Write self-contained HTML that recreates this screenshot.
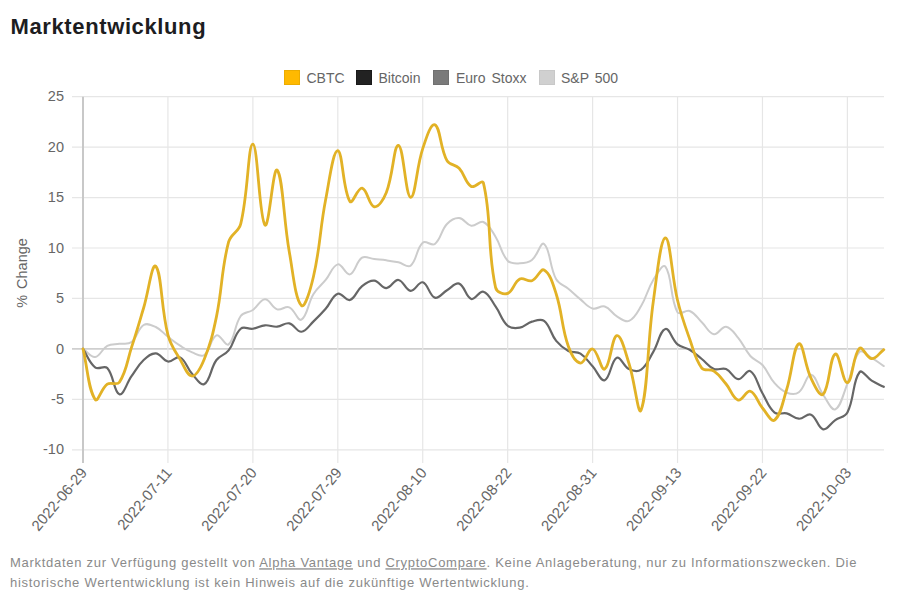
<!DOCTYPE html>
<html><head><meta charset="utf-8"><style>
html,body{margin:0;padding:0;background:#fff;width:900px;height:604px;overflow:hidden}
svg{display:block}
text{font-family:"Liberation Sans",sans-serif}
.yl{font-size:14.5px;fill:#666}
.xl{font-size:15px;fill:#666}
.lg{font-size:14px;fill:#666}
.ft{font-size:13px;fill:#8a8a8a;letter-spacing:0.72px}
</style></head><body>
<svg width="900" height="604" viewBox="0 0 900 604">
<text x="10.5" y="34" style="font-size:22px;font-weight:bold;fill:#1d1d1f;letter-spacing:0.62px">Marktentwicklung</text>
<rect x="284.5" y="70.5" width="15" height="14" fill="#ffb900" stroke="#ecac00" stroke-width="1"/>
<text x="306.5" y="82.5" class="lg">CBTC</text>
<rect x="356.5" y="70.5" width="15" height="14" fill="#222" stroke="#1a1a1a" stroke-width="1"/>
<text x="378.5" y="82.5" class="lg">Bitcoin</text>
<rect x="433.5" y="70.5" width="15" height="14" fill="#7a7a7a" stroke="#707070" stroke-width="1"/>
<text x="456" y="82.5" class="lg" style="word-spacing:2px">Euro Stoxx</text>
<rect x="539.5" y="70.5" width="15" height="14" fill="#d0d0d0" stroke="#c8c8c8" stroke-width="1"/>
<text x="561" y="82.5" class="lg" style="word-spacing:2px">S&amp;P 500</text>
<line x1="72" y1="96.67" x2="884" y2="96.67" stroke="#e6e6e6" stroke-width="1.2"/>
<text x="64" y="101.27" text-anchor="end" class="yl">25</text>
<line x1="72" y1="147.12" x2="884" y2="147.12" stroke="#e6e6e6" stroke-width="1.2"/>
<text x="64" y="151.72" text-anchor="end" class="yl">20</text>
<line x1="72" y1="197.56" x2="884" y2="197.56" stroke="#e6e6e6" stroke-width="1.2"/>
<text x="64" y="202.16" text-anchor="end" class="yl">15</text>
<line x1="72" y1="248.01" x2="884" y2="248.01" stroke="#e6e6e6" stroke-width="1.2"/>
<text x="64" y="252.61" text-anchor="end" class="yl">10</text>
<line x1="72" y1="298.45" x2="884" y2="298.45" stroke="#e6e6e6" stroke-width="1.2"/>
<text x="64" y="303.06" text-anchor="end" class="yl">5</text>
<line x1="72" y1="348.90" x2="884" y2="348.90" stroke="#cfcfcf" stroke-width="1.6"/>
<text x="64" y="353.50" text-anchor="end" class="yl">0</text>
<line x1="72" y1="399.34" x2="884" y2="399.34" stroke="#e6e6e6" stroke-width="1.2"/>
<text x="64" y="403.94" text-anchor="end" class="yl">-5</text>
<line x1="72" y1="449.79" x2="884" y2="449.79" stroke="#e6e6e6" stroke-width="1.2"/>
<text x="64" y="454.39" text-anchor="end" class="yl">-10</text>
<text transform="translate(83.60,469.6) rotate(-50)" text-anchor="end" dominant-baseline="central" class="xl">2022-06-29</text>
<line x1="167.93" y1="96.7" x2="167.93" y2="463" stroke="#e6e6e6" stroke-width="1.2"/>
<text transform="translate(168.53,469.6) rotate(-50)" text-anchor="end" dominant-baseline="central" class="xl">2022-07-11</text>
<line x1="252.87" y1="96.7" x2="252.87" y2="463" stroke="#e6e6e6" stroke-width="1.2"/>
<text transform="translate(253.47,469.6) rotate(-50)" text-anchor="end" dominant-baseline="central" class="xl">2022-07-20</text>
<line x1="337.80" y1="96.7" x2="337.80" y2="463" stroke="#e6e6e6" stroke-width="1.2"/>
<text transform="translate(338.40,469.6) rotate(-50)" text-anchor="end" dominant-baseline="central" class="xl">2022-07-29</text>
<line x1="422.73" y1="96.7" x2="422.73" y2="463" stroke="#e6e6e6" stroke-width="1.2"/>
<text transform="translate(423.33,469.6) rotate(-50)" text-anchor="end" dominant-baseline="central" class="xl">2022-08-10</text>
<line x1="507.67" y1="96.7" x2="507.67" y2="463" stroke="#e6e6e6" stroke-width="1.2"/>
<text transform="translate(508.27,469.6) rotate(-50)" text-anchor="end" dominant-baseline="central" class="xl">2022-08-22</text>
<line x1="592.60" y1="96.7" x2="592.60" y2="463" stroke="#e6e6e6" stroke-width="1.2"/>
<text transform="translate(593.20,469.6) rotate(-50)" text-anchor="end" dominant-baseline="central" class="xl">2022-08-31</text>
<line x1="677.53" y1="96.7" x2="677.53" y2="463" stroke="#e6e6e6" stroke-width="1.2"/>
<text transform="translate(678.13,469.6) rotate(-50)" text-anchor="end" dominant-baseline="central" class="xl">2022-09-13</text>
<line x1="762.47" y1="96.7" x2="762.47" y2="463" stroke="#e6e6e6" stroke-width="1.2"/>
<text transform="translate(763.07,469.6) rotate(-50)" text-anchor="end" dominant-baseline="central" class="xl">2022-09-22</text>
<line x1="847.40" y1="96.7" x2="847.40" y2="463" stroke="#e6e6e6" stroke-width="1.2"/>
<text transform="translate(848.00,469.6) rotate(-50)" text-anchor="end" dominant-baseline="central" class="xl">2022-10-03</text>
<line x1="83" y1="96.7" x2="83" y2="463" stroke="#c8c8c8" stroke-width="2"/>
<text transform="translate(27,273) rotate(-90)" text-anchor="middle" style="font-size:14.5px;fill:#666;word-spacing:2px">% Change</text>
<path d="M83.00 348.90C87.85 352.13 90.57 357.54 95.13 356.97C100.28 356.33 101.71 348.87 107.27 345.87C111.42 343.63 114.54 344.62 119.40 343.86C124.25 343.09 127.95 344.83 131.53 342.04C137.65 337.28 137.55 328.78 143.67 324.99C147.26 322.76 151.52 324.92 155.80 327.01C161.23 329.65 162.99 332.99 167.93 336.79C172.70 340.46 175.02 342.42 180.07 345.67C184.73 348.68 187.07 350.47 192.20 352.43C196.78 354.18 200.94 357.34 204.33 354.95C210.64 350.52 210.60 337.94 216.47 335.38C220.31 333.70 225.41 346.91 228.60 344.36C235.12 339.16 233.99 325.57 240.73 316.01C243.70 311.81 248.43 313.00 252.87 309.96C258.14 306.34 260.09 299.49 265.00 299.36C269.79 299.24 271.69 307.56 277.13 309.35C281.39 310.75 285.23 305.62 289.27 307.33C294.94 309.74 297.72 321.66 301.40 319.64C307.43 316.33 307.66 303.60 313.53 294.02C317.37 287.74 320.97 285.73 325.67 279.99C330.68 273.87 332.39 265.61 337.80 264.35C342.10 263.35 345.73 275.49 349.93 274.34C355.44 272.83 355.97 261.52 362.07 257.70C365.68 255.43 369.34 258.58 374.20 259.11C379.05 259.63 381.50 259.68 386.33 260.32C391.21 260.97 393.67 261.28 398.47 262.34C403.37 263.42 407.44 268.23 410.60 265.67C417.14 260.36 416.13 248.57 422.73 242.66C425.83 239.89 431.54 246.54 434.87 243.97C441.24 239.07 440.85 230.57 447.00 224.00C450.56 220.20 454.43 217.71 459.13 218.05C464.13 218.40 466.12 224.88 471.27 225.71C475.82 226.45 479.52 220.22 483.40 221.98C489.23 224.62 491.51 230.28 495.53 236.71C501.21 245.78 501.02 253.43 507.67 260.72C510.73 264.09 514.98 263.49 519.80 263.35C524.69 263.20 528.20 263.00 531.93 260.02C537.90 255.25 540.67 241.28 544.07 243.97C550.38 248.98 549.32 266.61 556.20 279.29C559.03 284.49 563.61 284.76 568.33 288.67C573.32 292.79 575.47 295.27 580.47 299.36C585.17 303.22 587.23 306.96 592.60 308.54C596.94 309.82 600.45 305.16 604.73 306.53C610.16 308.26 611.57 313.16 616.87 316.31C621.28 318.94 625.09 322.61 629.00 320.95C634.79 318.50 637.24 312.59 641.13 306.02C646.95 296.21 647.30 289.66 653.27 279.99C657.01 273.92 662.72 263.10 665.40 266.67C672.43 276.06 669.82 298.30 677.53 312.38C679.53 316.01 685.55 309.29 689.67 310.97C695.26 313.24 697.02 317.67 701.80 322.27C706.72 326.99 708.65 333.30 713.93 334.27C718.36 335.08 721.55 326.05 726.07 326.70C731.26 327.46 734.03 332.78 738.20 337.80C743.74 344.48 744.60 349.53 750.33 355.96C754.31 360.43 758.49 360.58 762.47 365.04C768.20 371.48 768.91 376.72 774.60 383.20C778.61 387.78 781.31 390.66 786.73 392.69C791.01 394.29 795.36 394.90 798.87 392.28C805.06 387.67 806.38 374.15 811.00 374.63C816.08 375.16 817.75 387.11 823.13 394.80C827.46 400.99 831.37 411.10 835.27 409.33C841.08 406.70 843.00 394.21 847.40 383.81C852.71 371.25 852.59 359.32 859.53 351.93C862.29 348.99 866.99 355.26 871.67 357.98C876.69 360.91 878.95 362.82 883.80 366.05" fill="none" stroke="#cccccc" stroke-width="2" stroke-linejoin="round" stroke-linecap="round"/>
<path d="M83.00 348.90C87.85 356.29 88.87 362.42 95.13 367.36C98.58 370.08 104.39 364.88 107.27 368.07C114.10 375.65 113.87 392.46 119.40 394.30C123.58 395.69 126.49 383.27 131.53 376.14C136.20 369.55 137.91 365.41 143.67 360.00C147.61 356.29 151.08 353.04 155.80 353.34C160.79 353.65 162.76 360.65 167.93 361.51C172.47 362.27 176.34 355.46 180.07 357.37C186.05 360.46 186.69 367.98 192.20 374.02C196.40 378.63 200.75 386.08 204.33 384.01C210.46 380.47 210.30 368.53 216.47 360.00C220.01 355.09 224.88 355.21 228.60 350.41C234.58 342.70 234.21 334.55 240.73 328.72C243.92 325.88 248.11 329.39 252.87 328.72C257.81 328.02 260.07 325.70 265.00 325.29C269.78 324.89 272.35 327.08 277.13 326.70C282.06 326.32 284.80 322.45 289.27 323.37C294.50 324.46 296.74 332.14 301.40 331.75C306.45 331.33 308.90 325.75 313.53 321.36C318.61 316.55 321.05 314.00 325.67 308.75C330.76 302.94 332.11 295.77 337.80 293.71C341.82 292.26 345.81 301.27 349.93 299.97C355.51 298.20 356.42 290.53 362.07 286.05C366.12 282.82 369.51 280.31 374.20 280.70C379.22 281.12 381.54 288.20 386.33 288.06C391.25 287.92 393.89 279.46 398.47 279.99C403.59 280.59 405.52 290.40 410.60 290.89C415.23 291.33 418.54 281.15 422.73 282.31C428.25 283.85 429.24 295.80 434.87 297.65C438.95 298.99 442.09 293.12 447.00 290.28C451.79 287.51 455.11 282.19 459.13 283.62C464.82 285.66 465.63 297.09 471.27 298.96C475.34 300.31 479.26 290.44 483.40 291.70C488.97 293.38 491.13 300.15 495.53 306.32C500.83 313.75 501.36 320.13 507.67 325.70C511.06 328.69 515.18 328.48 519.80 327.71C524.89 326.87 526.81 323.09 531.93 321.66C536.52 320.38 540.75 318.32 544.07 320.95C550.45 326.02 550.40 333.76 556.20 340.93C560.10 345.75 562.91 348.08 568.33 350.92C572.62 353.16 576.44 351.08 580.47 353.64C586.15 357.26 587.86 361.17 592.60 366.35C597.56 371.78 600.66 381.61 604.73 380.18C610.37 378.18 610.99 360.47 616.87 357.78C620.69 356.03 623.40 366.35 629.00 369.08C633.10 371.07 637.62 372.06 641.13 369.58C647.33 365.20 648.87 359.27 653.27 351.93C658.58 343.05 659.87 330.75 665.40 329.02C669.57 327.72 671.75 339.43 677.53 344.36C681.46 347.70 685.16 346.99 689.67 349.71C694.86 352.84 697.02 355.19 701.80 358.99C706.72 362.90 708.46 366.70 713.93 368.98C718.16 370.74 721.85 367.31 726.07 369.08C731.55 371.38 733.15 378.75 738.20 379.17C742.86 379.55 746.79 369.03 750.33 371.10C756.49 374.68 757.37 384.56 762.47 393.29C767.07 401.18 768.26 407.42 774.60 412.66C777.97 415.45 782.09 412.21 786.73 413.37C791.80 414.63 793.93 418.45 798.87 418.72C803.63 418.97 807.10 412.98 811.00 414.68C816.80 417.21 817.75 428.12 823.13 429.31C827.46 430.26 830.25 423.51 835.27 420.03C839.96 416.77 844.94 417.32 847.40 412.46C854.64 398.19 852.35 381.61 859.53 372.21C862.06 368.90 866.61 377.63 871.67 380.68C876.32 383.48 878.95 384.37 883.80 386.83" fill="none" stroke="#666666" stroke-width="2.2" stroke-linejoin="round" stroke-linecap="round"/>
<path d="M83.00 348.90C87.85 369.08 88.07 389.06 95.13 399.34C97.77 403.19 101.33 388.41 107.27 384.21C111.03 381.55 116.97 385.88 119.40 382.19C126.68 371.15 126.97 361.40 131.53 347.39C136.67 331.62 138.91 323.63 143.67 307.74C148.62 291.18 152.08 262.13 155.80 266.27C161.79 272.94 160.97 308.06 167.93 334.78C170.68 345.31 174.52 349.96 180.07 359.39C184.23 366.47 187.38 376.12 192.20 376.04C197.09 375.96 201.21 366.64 204.33 358.99C210.92 342.87 212.89 333.85 216.47 316.62C222.60 287.04 221.07 270.77 228.60 241.96C230.77 233.64 238.66 232.14 240.73 223.80C248.37 193.00 248.05 143.85 252.87 144.09C257.76 144.34 259.25 218.86 265.00 225.01C268.96 229.24 273.20 165.70 277.13 170.02C282.90 176.35 283.45 219.17 289.27 251.64C293.16 273.37 295.23 299.26 301.40 305.52C304.94 309.11 310.72 288.54 313.53 276.26C320.43 246.16 319.78 230.04 325.67 199.58C329.48 179.84 333.03 150.40 337.80 150.75C342.74 151.12 342.72 190.30 349.93 201.40C352.43 205.24 357.72 187.12 362.07 188.08C367.43 189.26 368.92 205.78 374.20 206.75C378.63 207.56 383.64 199.33 386.33 192.52C393.35 174.76 393.83 144.40 398.47 145.30C403.54 146.30 405.59 196.58 410.60 197.26C415.30 197.91 416.41 167.54 422.73 148.63C426.12 138.52 430.85 122.73 434.87 124.72C440.55 127.54 439.96 147.99 447.00 160.64C449.67 165.43 455.28 164.21 459.13 168.31C464.99 174.54 465.12 182.76 471.27 186.47C474.82 188.61 482.36 178.61 483.40 182.94C492.07 218.96 486.94 248.22 495.53 287.36C496.64 292.41 503.61 294.81 507.67 293.41C513.31 291.46 513.92 282.06 519.80 278.98C523.62 276.98 527.75 282.25 531.93 280.70C537.46 278.65 540.42 268.00 544.07 270.00C550.13 273.33 552.96 283.83 556.20 294.02C562.66 314.34 561.33 326.35 568.33 346.28C571.03 353.96 575.35 362.45 580.47 363.02C585.06 363.54 588.31 347.93 592.60 349.00C598.02 350.35 600.87 371.20 604.73 369.08C610.58 365.87 611.63 336.88 616.87 335.68C621.34 334.66 625.24 352.01 629.00 363.53C634.95 381.75 638.16 417.61 641.13 410.04C647.87 392.87 647.18 344.84 653.27 301.68C656.89 276.03 660.49 238.31 665.40 238.02C670.20 237.74 671.62 275.64 677.53 300.27C681.32 316.04 684.20 323.74 689.67 339.01C693.91 350.86 694.85 358.88 701.80 368.07C704.56 371.72 709.92 368.46 713.93 371.10C719.62 374.83 721.52 378.59 726.07 384.01C731.23 390.17 732.64 398.39 738.20 400.05C742.34 401.29 746.26 389.93 750.33 391.27C755.96 393.12 757.15 401.72 762.47 408.02C766.86 413.22 771.30 422.58 774.60 420.03C781.00 415.08 782.72 401.84 786.73 389.26C792.43 371.37 793.40 346.36 798.87 343.86C803.10 341.92 804.76 365.18 811.00 378.16C814.46 385.36 819.99 397.44 823.13 394.30C829.70 387.75 829.68 356.64 835.27 353.94C839.39 351.96 842.93 383.64 847.40 382.60C852.63 381.38 852.79 354.94 859.53 348.29C862.49 345.38 866.69 358.42 871.67 358.69C876.39 358.94 878.95 353.24 883.80 349.61" fill="none" stroke="#e2b226" stroke-width="2.8" stroke-linejoin="round" stroke-linecap="round"/>
<text x="10" y="567.3" class="ft">Marktdaten zur Verfügung gestellt von <tspan text-decoration="underline">Alpha Vantage</tspan> und <tspan text-decoration="underline">CryptoCompare</tspan>. Keine Anlageberatung, nur zu Informationszwecken. Die</text>
<text x="10" y="587" class="ft">historische Wertentwicklung ist kein Hinweis auf die zukünftige Wertentwicklung.</text>
</svg>
</body></html>
